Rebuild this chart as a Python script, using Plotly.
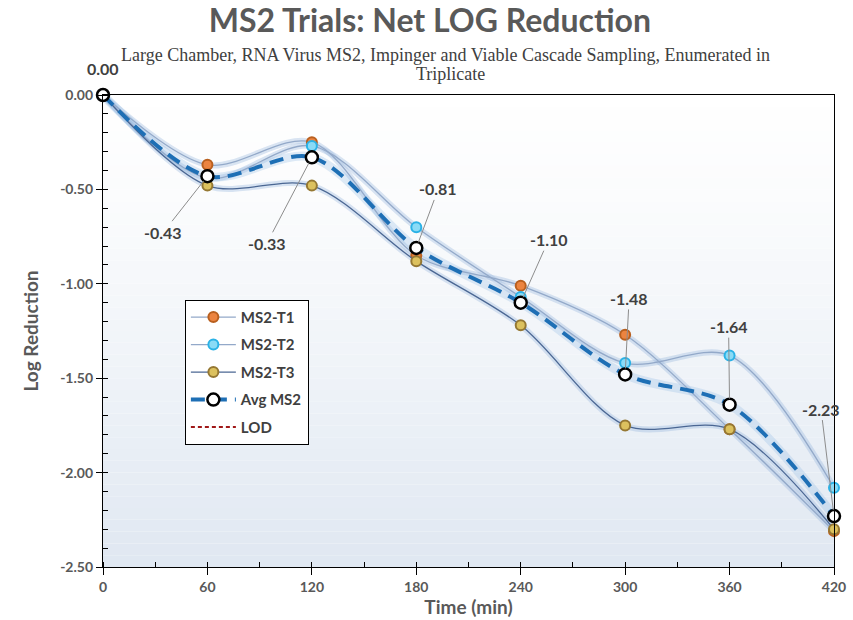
import plotly.graph_objects as go

time_min = [0, 60, 120, 180, 240, 300, 360, 420]
ms2_t1 = [0.00, -0.37, -0.25, -0.85, -1.01, -1.27, -1.77, -2.31]
ms2_t2 = [0.00, -0.44, -0.27, -0.70, -1.07, -1.42, -1.38, -2.08]
ms2_t3 = [0.00, -0.48, -0.48, -0.88, -1.22, -1.75, -1.77, -2.30]
avg_ms2 = [0.00, -0.43, -0.33, -0.81, -1.10, -1.48, -1.64, -2.23]
lod_x = [None]
lod_y = [None]
x_ticks = [0, 60, 120, 180, 240, 300, 360, 420]
y_ticks = [0.0, -0.5, -1.0, -1.5, -2.0, -2.5]
y_tick_text = [f"{v:.2f}" for v in y_ticks]

# label offsets (pixels) for the average data labels
label_offsets = [(0, -27), (-44, 56), (-45, 86), (22, -59), (28, -63), (4, -76), (-1, -78), (-13, -107)]

FONT = "Lato"
GRAY = "#404040"
AXGRAY = "#595959"

fig = go.Figure()

# gradient background strips for plot area
n = 40
for i in range(n):
    t = (i / (n - 1)) ** 1.3
    r = int(255 - t * (255 - 224))
    g = int(255 - t * (255 - 232))
    b = int(255 - t * (255 - 242))
    fig.add_shape(type="rect", xref="x domain", yref="y domain",
                  x0=0, x1=1, y0=1 - (i + 1) / n, y1=1 - i / n,
                  fillcolor=f"rgb({r},{g},{b})", line_width=0, layer="below")

trials = [
    ("MS2-T1", ms2_t1, "#EC8440", "#B9601F", "#93A9C9"),
    ("MS2-T2", ms2_t2, "#8ADBF6", "#2BB2E6", "#93A9C9"),
    ("MS2-T3", ms2_t3, "#DCC15E", "#957833", "#4B6793"),
]

# glow underlays
for name, ys, mc, mlc, lc in trials:
    fig.add_trace(go.Scatter(x=time_min, y=ys, mode="lines",
                             line=dict(color="rgba(150,180,220,0.35)", width=6, shape="spline", smoothing=0.9),
                             showlegend=False, hoverinfo="skip", cliponaxis=False))
fig.add_trace(go.Scatter(x=time_min, y=avg_ms2, mode="lines",
                         line=dict(color="rgba(150,190,230,0.3)", width=9, shape="spline", smoothing=0.9),
                         showlegend=False, hoverinfo="skip", cliponaxis=False))

for k, (name, ys, mc, mlc, lc) in enumerate(trials):
    fig.add_trace(go.Scatter(
        x=time_min, y=ys, mode="lines+markers", name=name, legendgroup=f"g{k}",
        line=dict(color=lc, width=1.3, shape="spline", smoothing=0.9),
        marker=dict(size=10, color=mc, line=dict(color=mlc, width=2)),
        cliponaxis=False))

fig.add_trace(go.Scatter(
    x=time_min, y=avg_ms2, mode="lines+markers", name="Avg MS2", legendgroup="g3",
    line=dict(color="#1E6FB5", width=4, dash="14px,8px", shape="spline", smoothing=0.9),
    marker=dict(size=12, color="white", line=dict(color="black", width=2.5)),
    cliponaxis=False))

fig.add_trace(go.Scatter(
    x=lod_x, y=lod_y, mode="lines", name="LOD", legendgroup="g4",
    line=dict(color="#A01818", width=2, dash="4px,3px")))

for (xv, yv), (ax, ay) in zip(zip(time_min, avg_ms2), label_offsets):
    fig.add_annotation(x=xv, y=yv, text=f"{yv:.2f}", showarrow=True,
                       arrowhead=0, arrowwidth=1, arrowcolor="#8C8C8C" if xv else "rgba(0,0,0,0)",
                       ax=ax, ay=ay, standoff=6,
                       font=dict(family=FONT, size=16, color=GRAY, weight="bold"))

subtitle_lines = ["Large Chamber, RNA Virus MS2, Impinger and Viable Cascade Sampling, Enumerated in",
                  "Triplicate"]
for txt, xp, yp in zip(subtitle_lines, [0.469, 0.475], [1.085, 1.044]):
    fig.add_annotation(xref="paper", yref="paper", x=xp, y=yp, xanchor="center", yanchor="middle",
                       text=txt, showarrow=False,
                       font=dict(family="Liberation Serif", size=18, color="#404040"))

fig.update_layout(
    width=853, height=620,
    margin=dict(l=103, r=19, t=95, b=53, autoexpand=False),
    paper_bgcolor="white", plot_bgcolor="white",
    title=dict(text="MS2 Trials: Net LOG Reduction", x=0.504, xanchor="center", y=0.966, yanchor="middle",
               font=dict(family=FONT, size=32, color=AXGRAY, weight="bold")),
    showlegend=True,
    legend=dict(x=0.112, y=0.566, xanchor="left", yanchor="top",
                bgcolor="white", bordercolor="black", borderwidth=1,
                font=dict(family=FONT, size=15, color=GRAY, weight="bold"),
                itemwidth=45, tracegroupgap=5, traceorder="grouped"),
    xaxis=dict(range=[0, 420], tickvals=x_ticks, ticks="outside", ticklen=7, tickwidth=1,
               tickcolor="black", showline=True, linecolor="black", linewidth=1.3, mirror=True,
               showgrid=False, zeroline=False, automargin=False,
               minor=dict(dtick=30, tick0=0, ticks="inside", ticklen=5, tickcolor="black"),
               tickfont=dict(family=FONT, size=14, color=AXGRAY, weight="bold"),
               title=dict(text="Time (min)", standoff=6, font=dict(family=FONT, size=19, color=AXGRAY, weight="bold"))),
    yaxis=dict(range=[-2.5, 0], tickvals=y_ticks, ticktext=y_tick_text, ticks="outside", ticklen=6,
               tickcolor="black", showline=True, linecolor="black", linewidth=1.3, mirror=True,
               showgrid=False, zeroline=False, automargin=False,
               minor=dict(dtick=0.1, ticks="inside", ticklen=5, tickcolor="black"),
               tickfont=dict(family=FONT, size=14, color=AXGRAY, weight="bold"),
               title=dict(text="Log Reduction", standoff=16, font=dict(family=FONT, size=19, color=AXGRAY, weight="bold"))),
)

fig.write_html("out.html", config={"displayModeBar": False},
               post_script="document.body.style.margin='0';")
